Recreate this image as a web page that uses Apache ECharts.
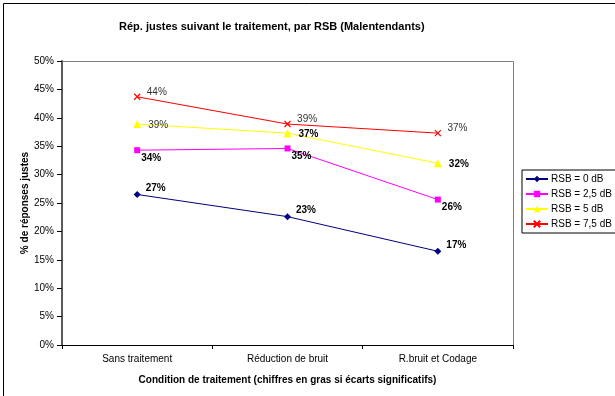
<!DOCTYPE html>
<html>
<head>
<meta charset="utf-8">
<script src="https://cdn.jsdelivr.net/npm/echarts@6/dist/echarts.min.js"></script>
<style>
  html, body { margin: 0; padding: 0; background: #fff; }
  #chart { width: 615px; height: 396px; }
</style>
</head>
<body>
<div id="chart"></div>
<script>
// Conditions de traitement (axe des abscisses)
const categories = ['Sans traitement', 'Réduction de bruit', 'R.bruit et Codage'];

// % de réponses justes par RSB
const rsb0  = [26.5, 22.6, 16.5];
const rsb25 = [34.3, 34.6, 25.6];
const rsb5  = [38.9, 37.3, 32.0];
const rsb75 = [43.7, 38.9, 37.3];

// Écarts significatifs (chiffres en gras)
const sig0  = [true, true, true];
const sig25 = [true, true, true];
const sig5  = [false, true, true];
const sig75 = [false, false, false];

const seriesNames = ['RSB = 0 dB', 'RSB = 2,5 dB', 'RSB = 5 dB', 'RSB = 7,5 dB'];
const yTicks = [0, 5, 10, 15, 20, 25, 30, 35, 40, 45, 50];

const FONT = '"Liberation Sans", Arial, sans-serif';

function pts(values, sig) {
  return values.map((v, i) => ({
    value: v,
    label: { fontWeight: sig[i] ? 'bold' : 'normal', color: sig[i] ? '#000' : '#333' }
  }));
}

function makeSeries(name, values, sig, color, symbol, size, labelCfg, extraItem) {
  return {
    name: name,
    type: 'line',
    data: pts(values, sig),
    symbol: symbol,
    symbolSize: size,
    lineStyle: { color: color, width: 1 },
    itemStyle: Object.assign({ color: color }, extraItem || {}),
    label: Object.assign({
      show: true,
      fontFamily: FONT,
      fontSize: 10,
      formatter: p => Math.round(p.value) + '%'
    }, labelCfg),
    emphasis: { disabled: true },
    animation: false
  };
}

const chart = echarts.init(document.getElementById('chart'), null, { renderer: 'canvas' });

chart.setOption({
  backgroundColor: '#fff',
  animation: false,
  title: {
    text: 'Rép. justes suivant le traitement, par RSB (Malentendants)',
    left: 114,
    top: 16,
    textStyle: { fontFamily: FONT, fontSize: 11, fontWeight: 'bold', color: '#000' }
  },
  graphic: [
    // cadre du graphique
    { type: 'rect', shape: { x: 3.5, y: 3.5, width: 800, height: 600 },
      style: { fill: 'none', stroke: '#000', lineWidth: 1 }, silent: true, z: -1 },
    // bordure de la zone de traçage (haut et droite)
    { type: 'polyline', shape: { points: [[62, 61.5], [513.5, 61.5], [513.5, 345]] },
      style: { fill: 'none', stroke: '#808080', lineWidth: 1 }, silent: true, z: 0 }
  ],
  legend: {
    orient: 'vertical',
    left: 522,
    top: 170,
    itemWidth: 22,
    itemHeight: 8,
    itemGap: 5,
    padding: [4, 6, 4, 3],
    borderColor: '#000',
    borderWidth: 1,
    textStyle: { fontFamily: FONT, fontSize: 10, color: '#000', padding: [0, 0, 0, -2] },
    data: seriesNames
  },
  grid: { left: 62, top: 61, right: 102, bottom: 51, containLabel: false },
  xAxis: {
    type: 'category',
    data: categories,
    boundaryGap: true,
    name: 'Condition de traitement (chiffres en gras si écarts significatifs)',
    nameLocation: 'middle',
    nameGap: 30,
    nameMoveOverlap: false,
    nameTextStyle: { fontFamily: FONT, fontSize: 10, fontWeight: 'bold', color: '#000' },
    axisLine: { lineStyle: { color: '#000', width: 1 } },
    axisTick: { show: true, length: 4, inside: false, lineStyle: { color: '#000' } },
    axisLabel: { fontFamily: FONT, fontSize: 10, color: '#000', margin: 9 },
    splitLine: { show: false }
  },
  yAxis: {
    type: 'value',
    min: yTicks[0],
    max: yTicks[yTicks.length - 1],
    interval: 5,
    name: '% de réponses justes',
    nameLocation: 'middle',
    nameGap: 32,
    nameMoveOverlap: false,
    nameTextStyle: { fontFamily: FONT, fontSize: 10, fontWeight: 'bold', color: '#000' },
    axisLine: { show: true, lineStyle: { color: '#5a5a5a', width: 2 } },
    axisTick: { show: true, length: 5, lineStyle: { color: '#000' } },
    axisLabel: { fontFamily: FONT, fontSize: 10, color: '#000', margin: 8, formatter: v => v + '%' },
    splitLine: { show: false }
  },
  series: [
    makeSeries(seriesNames[0], rsb0, sig0, '#000080', 'diamond', 7,
      { position: 'right', distance: 5, offset: [0, -6] }),
    makeSeries(seriesNames[1], rsb25, sig25, '#FF00FF', 'rect', 6,
      { position: 'right', distance: 3, offset: [-2, 8] }),
    makeSeries(seriesNames[2], rsb5, sig5, '#FFFF00', 'triangle', 8,
      { position: 'right', distance: 7, offset: [0, 1] }),
    makeSeries(seriesNames[3], rsb75, sig75, '#FF0000',
      'path://M0,0L10,10M10,0L0,10', 6,
      { position: 'right', distance: 6, offset: [0, -5] },
      { borderColor: '#FF0000', borderWidth: 1.2 })
  ]
});
</script>
</body>
</html>
